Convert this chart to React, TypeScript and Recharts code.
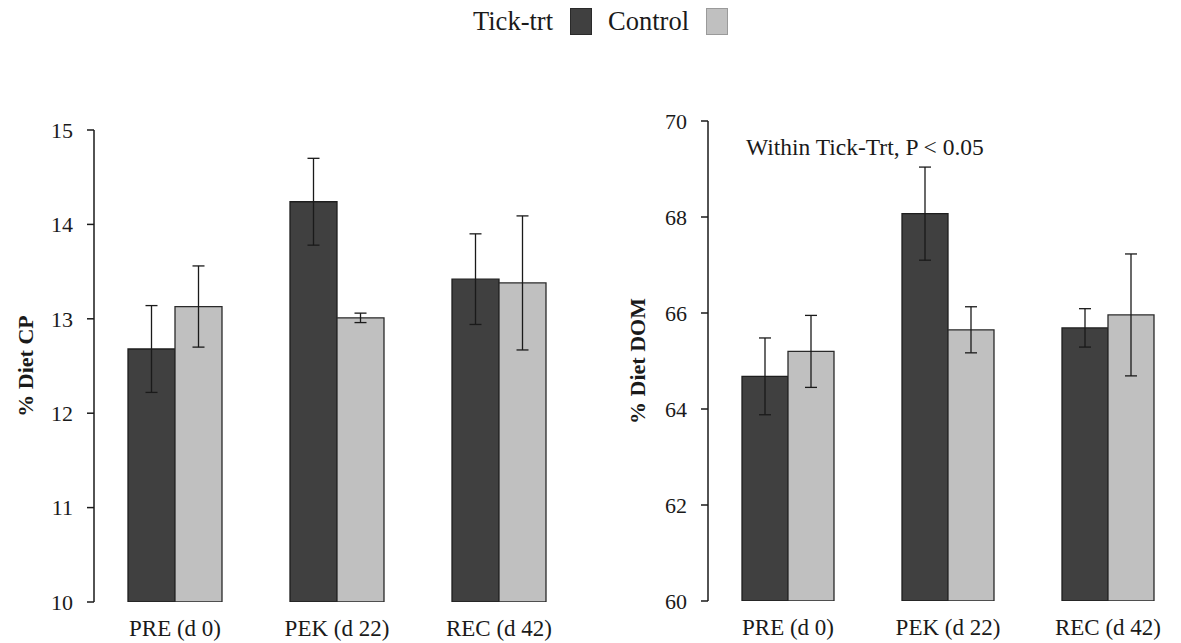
import React from "react";
import { BarChart, Bar, XAxis, YAxis, ErrorBar } from "recharts";

const CATEGORIES = ["PRE (d 0)", "PEK (d 22)", "REC (d 42)"];
const EDGE_TICKS = [0, 1, 2, 3];

// % Diet CP
const CP_TICK = [12.68, 14.24, 13.42];
const CP_TICK_SE = [0.46, 0.46, 0.48];
const CP_CONTROL = [13.13, 13.01, 13.38];
const CP_CONTROL_SE = [0.43, 0.05, 0.71];
const CP_TICKS = [10, 11, 12, 13, 14, 15];

// % Diet DOM
const DOM_TICK = [64.68, 68.07, 65.69];
const DOM_TICK_SE = [0.8, 0.97, 0.4];
const DOM_CONTROL = [65.2, 65.65, 65.96];
const DOM_CONTROL_SE = [0.75, 0.48, 1.27];
const DOM_TICKS = [60, 62, 64, 66, 68, 70];

const SERIES = [
  { key: "tick", name: "Tick-trt", color: "#404040", border: "#1e1e1e" },
  { key: "control", name: "Control", color: "#c0c0c0", border: "#2a2a2a" },
];

const FONT = '"Liberation Serif", "Times New Roman", serif';
const INK = "#1a1a1a";

function buildRows(tick: number[], tickSe: number[], control: number[], controlSe: number[]) {
  return CATEGORIES.map((cat, i) => ({
    cat,
    tick: tick[i],
    tickErr: tickSe[i],
    control: control[i],
    controlErr: controlSe[i],
  }));
}

interface PanelProps {
  rows: ReturnType<typeof buildRows>;
  ticks: number[];
  yLabel: string;
  left: number;
  width: number;
  top: number;
  right: number;
  bottom: number;
  yAxisWidth: number;
  barSize: number;
  labelOffset: number;
}

function Panel(p: PanelProps) {
  const yTickStyle = { fontSize: 22, fill: INK, fontFamily: FONT };
  const xTickStyle = { fontSize: 23, fill: INK, fontFamily: FONT };
  return (
    <div style={{ position: "absolute", left: p.left, top: 0 }}>
      <BarChart
        width={p.width}
        height={643}
        data={p.rows}
        barGap={0}
        barSize={p.barSize}
        margin={{ top: p.top, right: p.right, bottom: p.bottom, left: 0 }}
      >
        <XAxis
          xAxisId="edge"
          type="number"
          domain={[0, 3]}
          ticks={EDGE_TICKS}
          allowDataOverflow
          height={0}
          tick={false}
          tickSize={7}
          axisLine={{ stroke: INK, strokeWidth: 1.5 }}
          tickLine={{ stroke: INK, strokeWidth: 1.5 }}
        />
        <XAxis
          xAxisId="cat"
          dataKey="cat"
          height={40}
          axisLine={false}
          tickLine={false}
          tickSize={0}
          tickMargin={18}
          tick={xTickStyle}
          interval={0}
        />
        <YAxis
          domain={[p.ticks[0], p.ticks[p.ticks.length - 1]]}
          ticks={p.ticks}
          width={p.yAxisWidth}
          tickSize={7}
          tickMargin={14}
          tick={yTickStyle}
          axisLine={{ stroke: INK, strokeWidth: 1.5 }}
          tickLine={{ stroke: INK, strokeWidth: 1.5 }}
          allowDataOverflow
          label={{
            value: p.yLabel,
            angle: -90,
            position: "insideLeft",
            offset: p.labelOffset,
            style: { textAnchor: "middle", fontSize: 22, fontWeight: 700, fill: INK, fontFamily: FONT },
          }}
        />
        {SERIES.map((s) => (
          <Bar
            key={s.key}
            xAxisId="cat"
            dataKey={s.key}
            name={s.name}
            fill={s.color}
            stroke={s.border}
            strokeWidth={1.3}
            isAnimationActive={false}
          >
            <ErrorBar dataKey={`${s.key}Err`} direction="y" width={6} stroke={INK} strokeWidth={1.3} />
          </Bar>
        ))}
      </BarChart>
    </div>
  );
}

function Legend() {
  return (
    <div
      style={{
        position: "absolute",
        left: 473,
        top: 8,
        height: 27,
        display: "flex",
        alignItems: "center",
        fontFamily: FONT,
        fontSize: 26.5,
        color: INK,
      }}
    >
      {SERIES.map((s, i) => (
        <React.Fragment key={s.key}>
          <span style={{ marginLeft: i === 0 ? 0 : 16, lineHeight: "27px" }}>{s.name}</span>
          <span
            style={{
              marginLeft: 17,
              width: 22,
              height: 27,
              background: s.color,
              border: `1px solid ${i === 0 ? "#2a2a2a" : "#9a9a9a"}`,
              boxSizing: "border-box",
              display: "inline-block",
            }}
          />
        </React.Fragment>
      ))}
    </div>
  );
}

export default function App() {
  const cpRows = buildRows(CP_TICK, CP_TICK_SE, CP_CONTROL, CP_CONTROL_SE);
  const domRows = buildRows(DOM_TICK, DOM_TICK_SE, DOM_CONTROL, DOM_CONTROL_SE);
  return (
    <div
      style={{
        position: "absolute",
        left: 0,
        top: 0,
        width: 1181,
        height: 643,
        overflow: "hidden",
        background: "#fff",
        fontFamily: FONT,
      }}
    >
      <Legend />
      <Panel
        rows={cpRows}
        ticks={CP_TICKS}
        yLabel="% Diet CP"
        left={0}
        width={600}
        top={130}
        right={20}
        bottom={1}
        yAxisWidth={94}
        barSize={47}
        labelOffset={25}
      />
      <Panel
        rows={domRows}
        ticks={DOM_TICKS}
        yLabel="% Diet DOM"
        left={590}
        width={600}
        top={121}
        right={2}
        bottom={2}
        yAxisWidth={118}
        barSize={46}
        labelOffset={47}
      />
      <div
        style={{
          position: "absolute",
          left: 746,
          top: 136,
          fontSize: 23.5,
          lineHeight: "23px",
          color: INK,
          whiteSpace: "nowrap",
        }}
      >
        Within Tick-Trt, P &lt; 0.05
      </div>
    </div>
  );
}
